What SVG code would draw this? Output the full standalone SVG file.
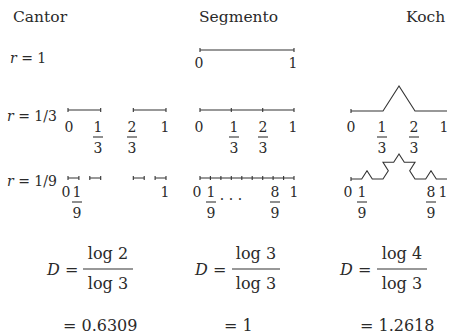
<svg xmlns="http://www.w3.org/2000/svg" width="449" height="335" viewBox="0 0 449 335">
<style>
text{font-family:"DejaVu Serif","Liberation Serif","Noto Serif",serif;fill:#2a2a2a}
.h{font-size:15.5px}
.r{font-size:14px}
.l{font-size:14px;text-anchor:middle}
.f{font-size:16px}
.c{text-anchor:middle}
.ln{stroke:#333;stroke-width:1.1;fill:none}
.tk{stroke:#333;stroke-width:1.1}
</style>
<rect width="449" height="335" fill="#fff"/>
<g id="headers">
<text class="h" x="13" y="22">Cantor</text>
<text class="h" x="199" y="22">Segmento</text>
<text class="h" x="406" y="22">Koch</text>
</g>
<g id="scale-labels">
<text class="r" x="10" y="63"><tspan font-style="italic">r</tspan> = 1</text>
<text class="r" x="7" y="121"><tspan font-style="italic">r</tspan> = 1/3</text>
<text class="r" x="7" y="186"><tspan font-style="italic">r</tspan> = 1/9</text>
</g>
<g id="cantor">
<path class="ln" d="M68 110H100.7M133.3 110H166M68 178H78.9M89.8 178H100.7M133.3 178H144.2M155.1 178H166"/>
<path class="tk" d="M68 108v4M100.7 108v4M133.3 108v4M166 108v4M68 176v4M78.9 176v4M89.8 176v4M100.7 176v4M133.3 176v4M144.2 176v4M155.1 176v4M166 176v4"/>
<text class="l" x="69" y="132">0</text>
<text class="l" x="98" y="132">1</text><path class="tk" d="M93 137h10"/><text class="l" x="98" y="153">3</text>
<text class="l" x="132" y="132">2</text><path class="tk" d="M127 137h10"/><text class="l" x="132" y="153">3</text>
<text class="l" x="165" y="132">1</text>
<text class="l" x="66" y="197">0</text>
<text class="l" x="77" y="197">1</text><path class="tk" d="M72 202h10"/><text class="l" x="77" y="218">9</text>
<text class="l" x="165" y="197">1</text>
</g>
<g id="segmento">
<path class="ln" d="M200 50H294M200 110H294M200 178H294"/>
<path class="tk" d="M200 48v4M294 48v4M200 108v4M231.3 108v4M262.7 108v4M294 108v4M200 176v4M210.4 176v4M220.9 176v4M231.3 176v4M241.8 176v4M252.2 176v4M262.7 176v4M273.1 176v4M283.6 176v4M294 176v4"/>
<text class="l" x="199" y="68">0</text>
<text class="l" x="293" y="68">1</text>
<text class="l" x="199" y="132">0</text>
<text class="l" x="234" y="132">1</text><path class="tk" d="M229 137h10"/><text class="l" x="234" y="153">3</text>
<text class="l" x="263" y="132">2</text><path class="tk" d="M258 137h10"/><text class="l" x="263" y="153">3</text>
<text class="l" x="293" y="132">1</text>
<text class="l" x="197" y="197">0</text>
<text class="l" x="211" y="197">1</text><path class="tk" d="M206 202h10"/><text class="l" x="211" y="218">9</text>
<text class="l" x="231" y="204">· · ·</text>
<text class="l" x="275" y="197">8</text><path class="tk" d="M270 202h10"/><text class="l" x="275" y="218">9</text>
<text class="l" x="294" y="197">1</text>
</g>
<g id="koch">
<path class="ln" d="M351 111L383 111L399 86L415 111L447 111"/>
<path class="ln" d="M351 179L361.7 179L367 170.7L372.3 179L383 179L388.3 170.7L383 162.3L393.7 162.3L399 154L404.3 162.3L415 162.3L409.7 170.7L415 179L425.7 179L431 170.7L436.3 179L447 179"/>
<path class="tk" d="M351 109v4M351 177v4"/>
<text class="l" x="351" y="132">0</text>
<text class="l" x="382" y="132">1</text><path class="tk" d="M377 137h10"/><text class="l" x="382" y="153">3</text>
<text class="l" x="414" y="132">2</text><path class="tk" d="M409 137h10"/><text class="l" x="414" y="153">3</text>
<text class="l" x="444" y="132">1</text>
<text class="l" x="348" y="197">0</text>
<text class="l" x="362" y="197">1</text><path class="tk" d="M357 202h10"/><text class="l" x="362" y="218">9</text>
<text class="l" x="431" y="197">8</text><path class="tk" d="M426 202h10"/><text class="l" x="431" y="218">9</text>
<text class="l" x="443" y="197">1</text>
</g>
<g id="formulas">
<text class="f" x="47" y="275"><tspan font-style="italic">D</tspan> =</text>
<text class="f c" x="108" y="259">log 2</text><path class="tk" d="M83 269h50"/><text class="f c" x="108" y="289">log 3</text>
<text class="f" x="63" y="331">= 0.6309</text>
<text class="f" x="195" y="275"><tspan font-style="italic">D</tspan> =</text>
<text class="f c" x="256" y="259">log 3</text><path class="tk" d="M232 269h48"/><text class="f c" x="256" y="289">log 3</text>
<text class="f" x="224" y="331">= 1</text>
<text class="f" x="340" y="275"><tspan font-style="italic">D</tspan> =</text>
<text class="f c" x="402" y="259">log 4</text><path class="tk" d="M377 269h50"/><text class="f c" x="402" y="289">log 3</text>
<text class="f" x="360" y="331">= 1.2618</text>
</g>
</svg>
